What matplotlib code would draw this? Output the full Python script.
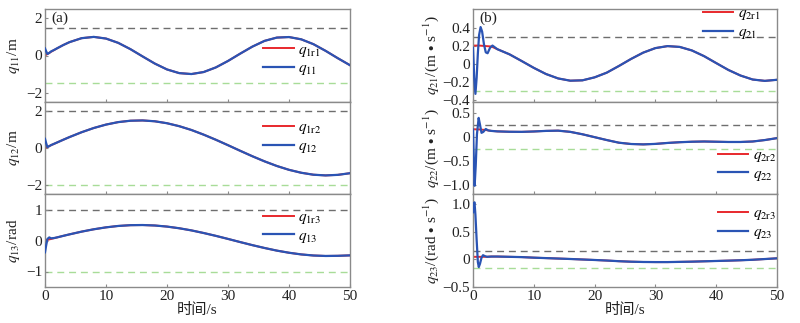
import matplotlib
matplotlib.use("Agg")
import matplotlib.pyplot as plt

plt.rcParams['font.family'] = ['Liberation Serif', 'Noto Sans CJK SC', 'DejaVu Sans']
plt.rcParams['mathtext.fontset'] = 'stix'
plt.rcParams['axes.unicode_minus'] = True

# ---------------- data ----------------
# left column, (a)
t_a = [0, 0.2, 0.4, 0.7, 1.0, 1.5, 2, 3, 4, 6, 8, 10, 12, 14, 16, 18, 20, 22, 24, 26,
       28, 30, 32, 34, 36, 38, 40, 42, 44, 46, 48, 50]
q1r1 = [0, 0.04, 0.08, 0.14, 0.2, 0.295, 0.388, 0.563, 0.716, 0.931, 1.0, 0.911, 0.68,
        0.342, -0.05, -0.434, -0.75, -0.947, -0.997, -0.89, -0.642, -0.294, 0.1, 0.478,
        0.787, 0.963, 0.992, 0.87, 0.61, 0.25, -0.146, -0.523]
q11 = [0.38, 0.22, 0.08, 0.14, 0.22, 0.3, 0.39, 0.563, 0.716, 0.931, 1.0, 0.911, 0.68,
       0.342, -0.05, -0.434, -0.75, -0.947, -0.997, -0.89, -0.642, -0.294, 0.1, 0.478,
       0.787, 0.963, 0.992, 0.87, 0.61, 0.25, -0.146, -0.523]
q1r2 = [0, 0.03, 0.06, 0.106, 0.152, 0.227, 0.302, 0.449, 0.592, 0.857, 1.087, 1.272,
        1.407, 1.482, 1.498, 1.452, 1.346, 1.186, 0.979, 0.727, 0.449, 0.152, -0.152,
        -0.449, -0.727, -0.977, -1.186, -1.345, -1.452, -1.49, -1.46, -1.37]
q12 = [0.5, 0.25, 0.05, 0.1, 0.16, 0.23, 0.302, 0.449, 0.592, 0.857, 1.087, 1.272,
       1.407, 1.482, 1.498, 1.452, 1.346, 1.186, 0.979, 0.727, 0.449, 0.152, -0.152,
       -0.449, -0.727, -0.977, -1.186, -1.345, -1.452, -1.49, -1.46, -1.37]
q1r3 = [0, 0.01, 0.02, 0.035, 0.05, 0.076, 0.101, 0.15, 0.197, 0.286, 0.362, 0.424,
        0.469, 0.494, 0.499, 0.484, 0.449, 0.395, 0.326, 0.242, 0.15, 0.051, -0.051,
        -0.15, -0.242, -0.326, -0.395, -0.449, -0.484, -0.499, -0.494, -0.48]
q13 = [-0.38, -0.15, 0.05, 0.1, 0.07, 0.08, 0.101, 0.15, 0.197, 0.286, 0.362, 0.424,
       0.469, 0.494, 0.499, 0.484, 0.449, 0.395, 0.326, 0.242, 0.15, 0.051, -0.051,
       -0.15, -0.242, -0.326, -0.395, -0.449, -0.484, -0.499, -0.494, -0.48]

# right column, (b)
t_ref = [0, 1, 2, 3, 4, 6, 8, 10, 12, 14, 16, 18, 20, 22, 24, 26, 28, 30, 32, 34, 36,
         38, 40, 42, 44, 46, 48, 50]
q2r1 = [0.205, 0.205, 0.2, 0.195, 0.165, 0.108, 0.034, -0.042, -0.11, -0.159, -0.184,
        -0.18, -0.147, -0.095, -0.021, 0.057, 0.127, 0.177, 0.199, 0.19, 0.151, 0.088,
        0.011, -0.065, -0.127, -0.171, -0.186, -0.174]
q2r2 = [0.155, 0.15, 0.14, 0.12, 0.11, 0.102, 0.1, 0.108, 0.12, 0.125, 0.1, 0.05,
        -0.01, -0.07, -0.125, -0.152, -0.16, -0.15, -0.13, -0.115, -0.105, -0.1, -0.105,
        -0.11, -0.11, -0.1, -0.07, -0.03]
q2r3 = [0.045, 0.045, 0.045, 0.05, 0.05, 0.045, 0.04, 0.03, 0.022, 0.014, 0.006,
        -0.003, -0.012, -0.022, -0.034, -0.043, -0.048, -0.05, -0.05, -0.046, -0.042,
        -0.036, -0.03, -0.024, -0.017, -0.008, 0.005, 0.018]

t_b1 = [0, 0.2, 0.4, 0.6, 0.8, 1.0, 1.25, 1.5, 1.8, 2.1, 2.4, 2.8, 3.2, 3.6, 4, 6, 8,
        10, 12, 14, 16, 18, 20, 22, 24, 26, 28, 30, 32, 34, 36, 38, 40, 42, 44, 46, 48, 50]
q21 = [0.18, -0.15, -0.33, -0.15, 0.12, 0.32, 0.41, 0.36, 0.22, 0.13, 0.12, 0.18, 0.205,
       0.185, 0.165, 0.108, 0.034, -0.042, -0.11, -0.159, -0.184, -0.18, -0.147, -0.095,
       -0.021, 0.057, 0.127, 0.177, 0.199, 0.19, 0.151, 0.088, 0.011, -0.065, -0.127,
       -0.171, -0.186, -0.174]

t_b2 = [0, 0.1, 0.27, 0.45, 0.65, 0.93, 1.15, 1.4, 1.7, 2.1, 2.5, 3, 4, 6, 8, 10, 12,
        14, 16, 18, 20, 22, 24, 26, 28, 30, 32, 34, 36, 38, 40, 42, 44, 46, 48, 50]
q22 = [0.15, -0.3, -1.02, -0.6, 0.05, 0.39, 0.25, 0.08, 0.1, 0.16, 0.13, 0.12, 0.11,
       0.102, 0.1, 0.108, 0.12, 0.125, 0.1, 0.05, -0.01, -0.07, -0.125, -0.152, -0.16,
       -0.15, -0.13, -0.115, -0.105, -0.1, -0.105, -0.11, -0.11, -0.1, -0.07, -0.03]

t_b3 = [0, 0.12, 0.25, 0.4, 0.6, 0.8, 0.95, 1.15, 1.4, 1.65, 1.9, 2.3, 3, 4, 6, 8, 10,
        12, 14, 16, 18, 20, 22, 24, 26, 28, 30, 32, 34, 36, 38, 40, 42, 44, 46, 48, 50]
q23 = [0.85, 1.0, 1.03, 0.8, 0.35, -0.05, -0.14, -0.08, 0.03, 0.075, 0.06, 0.045, 0.05,
       0.05, 0.045, 0.04, 0.03, 0.022, 0.014, 0.006, -0.003, -0.012, -0.022, -0.034,
       -0.043, -0.048, -0.05, -0.05, -0.046, -0.042, -0.036, -0.03, -0.024, -0.017,
       -0.008, 0.005, 0.018]

x_ticks = [0, 10, 20, 30, 40, 50]

RED = '#e8282c'
BLUE = '#2a54b4'
GRAY = '#8a8a8a'
DGRAY = '#6e6e6e'
GREEN = '#a8dc98'
TXT = '#222222'

fig = plt.figure(figsize=(8.0, 3.23), dpi=100)

W = 800.0
H = 323.0

def make_ax(x0, x1, top, bot):
    return fig.add_axes([x0 / W, 1 - bot / H, (x1 - x0) / W, (bot - top) / H])

rows = [(9, 102), (102, 194), (194, 287)]
left_axes = [make_ax(45, 350, a, b) for a, b in rows]
right_axes = [make_ax(473, 777, a, b) for a, b in rows]

panels = [
    (left_axes[0], t_a, q1r1, t_a, q11, r'$q_{\mathrm{1r1}}$', r'$q_{\mathrm{11}}$',
     r'$q_{\mathrm{11}}$/m', (-2.5, 2.5), (1.5, -1.5), [-2, 0, 2], ['−2', '0', '2'], (0.705, 0.45)),
    (left_axes[1], t_a, q1r2, t_a, q12, r'$q_{\mathrm{1r2}}$', r'$q_{\mathrm{12}}$',
     r'$q_{\mathrm{12}}$/m', (-2.5, 2.5), (2.0, -2.0), [-2, 0, 2], ['−2', '0', '2'], (0.705, 0.61)),
    (left_axes[2], t_a, q1r3, t_a, q13, r'$q_{\mathrm{1r3}}$', r'$q_{\mathrm{13}}$',
     r'$q_{\mathrm{13}}$/rad', (-1.5, 1.5), (1.0, -1.0), [-1, 0, 1], ['−1', '0', '1'], (0.705, 0.64)),
    (right_axes[0], t_ref, q2r1, t_b1, q21, r'$q_{\mathrm{2r1}}$', r'$q_{\mathrm{21}}$',
     r'$q_{\mathrm{21}}$/(m$\,\bullet\,$s$^{-1}$)', (-0.42, 0.61), (0.3, -0.3),
     [-0.4, -0.2, 0, 0.2, 0.4], ['−0.4', '−0.2', '0', '0.2', '0.4'], (0.745, 0.84)),
    (right_axes[1], t_ref, q2r2, t_b2, q22, r'$q_{\mathrm{2r2}}$', r'$q_{\mathrm{22}}$',
     r'$q_{\mathrm{22}}$/(m$\,\bullet\,$s$^{-1}$)', (-1.19, 0.72), (0.25, -0.25),
     [-1.0, -0.5, 0, 0.5], ['−1.0', '−0.5', '0', '0.5'], (0.795, 0.31)),
    (right_axes[2], t_ref, q2r3, t_b3, q23, r'$q_{\mathrm{2r3}}$', r'$q_{\mathrm{23}}$',
     r'$q_{\mathrm{23}}$/(rad$\,\bullet\,$s$^{-1}$)', (-0.5, 1.18), (0.15, -0.15),
     [-0.5, 0, 0.5, 1.0], ['−0.5', '0', '0.5', '1.0'], (0.795, 0.68)),
]

for i, (ax, tr, ref, ta, act, lr, la, yl, ylim, bnd, yt, ytl, lanc) in enumerate(panels):
    ax.axhline(bnd[0], color=DGRAY, lw=1.0, ls=(0, (5, 3.5)), zorder=1)
    ax.axhline(bnd[1], color=GREEN, lw=1.0, ls=(0, (5, 3.5)), zorder=1)
    ax.plot(tr, ref, color=RED, lw=1.4, label=lr, zorder=2)
    ax.plot(ta, act, color=BLUE, lw=1.6, label=la, zorder=3)
    ax.set_xlim(0, 50)
    ax.set_ylim(*ylim)
    ax.set_yticks(yt)
    ax.set_yticklabels(ytl)
    ax.set_xticks(x_ticks)
    for s in ax.spines.values():
        s.set_color(GRAY)
        s.set_linewidth(1.0)
    ax.tick_params(direction='in', length=2.5, width=0.8, color=GRAY,
                   labelsize=11, pad=2, labelcolor=TXT)
    col = i // 3
    row = i % 3
    if row < 2:
        ax.tick_params(labelbottom=False)
    else:
        ax.set_xticklabels([str(v) for v in x_ticks])
        ax.set_xlabel('时间/s', fontsize=11, labelpad=0, color=TXT)
    ax.set_ylabel(yl, fontsize=11, color=TXT)
    if col == 0:
        ax.yaxis.set_label_coords(-0.075, 0.5)
    else:
        ax.yaxis.set_label_coords(-0.105, 0.5)
    ax.legend(loc='center left', bbox_to_anchor=lanc, frameon=False, fontsize=11,
              handlelength=2.0, handletextpad=0.3, labelspacing=0.2, borderaxespad=0,
              borderpad=0.2)

left_axes[0].text(0.02, 0.9, '(a)', transform=left_axes[0].transAxes, fontsize=11,
                  va='center', ha='left', color=TXT)
right_axes[0].text(0.02, 0.9, '(b)', transform=right_axes[0].transAxes, fontsize=11,
                   va='center', ha='left', color=TXT)

fig.savefig('out.png', dpi=100)
